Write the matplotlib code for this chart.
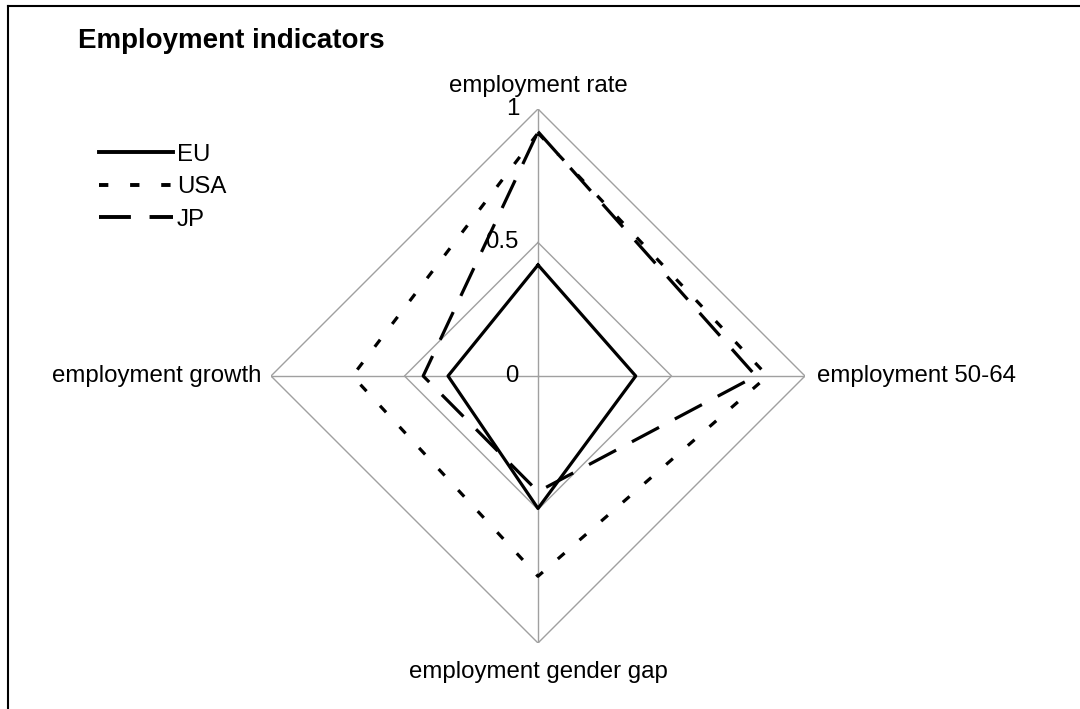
import numpy as np
import matplotlib
matplotlib.use("Agg")
from matplotlib import pyplot as plt
from matplotlib.lines import Line2D

plt.rcParams['font.family'] = ['Liberation Sans', 'DejaVu Sans']

# Données
indicateurs = ['employment rate', 'employment 50-64', 'employment gender gap', 'employment growth']
eu = [0.416, 0.366, 0.496, 0.337]
usa = [0.91, 0.86, 0.75, 0.695]
jp = [0.915, 0.816, 0.433, 0.43]
graduations = [0, 0.5, 1]

# Angles : haut, droite, bas, gauche
angles = np.array([0, 90, 180, 270]) * np.pi / 180

# Styles des séries
lw = 2.3
tirets_usa = (2.8, 6.2)
tirets_jp = (9.6, 5.6)
taille = 17.3


def vers_xy(valeurs):
    r = np.array(list(valeurs) + [valeurs[0]])
    a = np.append(angles, angles[0])
    return r * np.sin(a), r * np.cos(a)


fig = plt.figure(figsize=(10.8, 7.09), dpi=100)
ax = fig.add_axes([271 / 1080, 66 / 709, 534 / 1080, 534 / 709])
ax.set_xlim(-1, 1)
ax.set_ylim(-1, 1)
ax.set_aspect('equal')
ax.axis('off')

gris = '#a0a0a0'
# Grille en losange
for g in graduations[1:]:
    x, y = vers_xy([g] * 4)
    ax.plot(x, y, color=gris, lw=1, zorder=1)
# Rayons
for a in angles:
    ax.plot([0, np.sin(a)], [0, np.cos(a)], color=gris, lw=1, zorder=1)

# Graduations à gauche de l'axe vertical
for g in graduations:
    ax.annotate(str(g), (0, g), xytext=(-19, 0), textcoords='offset pixels',
                ha='right', va='center', fontsize=taille)

# Séries
x, y = vers_xy(eu)
ax.plot(x, y, color='black', lw=lw, zorder=3)
x, y = vers_xy(usa)
ax.plot(x, y, color='black', lw=lw, dashes=tirets_usa, zorder=3)
x, y = vers_xy(jp)
ax.plot(x, y, color='black', lw=lw, dashes=tirets_jp, zorder=3)

# Libellés des axes
ax.annotate(indicateurs[0], (0, 1), xytext=(0, 12), textcoords='offset pixels',
            ha='center', va='bottom', fontsize=taille, annotation_clip=False)
ax.annotate(indicateurs[1], (1, 0), xytext=(12, 0), textcoords='offset pixels',
            ha='left', va='center', fontsize=taille, annotation_clip=False)
ax.annotate(indicateurs[2], (0, -1), xytext=(0, -18), textcoords='offset pixels',
            ha='center', va='top', fontsize=taille, annotation_clip=False)
ax.annotate(indicateurs[3], (-1, 0), xytext=(-10, 0), textcoords='offset pixels',
            ha='right', va='center', fontsize=taille, annotation_clip=False)

# Titre
fig.text(78 / 1080, 1 - 48 / 709, 'Employment indicators', fontsize=20, fontweight='bold',
         ha='left', va='baseline')

# Légende
poignees = [Line2D([], [], color='black', lw=2.8),
            Line2D([], [], color='black', lw=2.8, dashes=(2.4, 5.6)),
            Line2D([], [], color='black', lw=2.8, dashes=(8.2, 4.8))]
fig.legend(poignees, ['EU', 'USA', 'JP'], loc='upper left', bbox_to_anchor=(77 / 1080, 1 - 122 / 709),
           frameon=False, fontsize=taille, handlelength=3.1, handletextpad=0.15, labelspacing=0.44)

# Cadre (haut et gauche)
fig.add_artist(Line2D([8 / 1080, 8 / 1080], [0, 1 - 6 / 709], color='black', lw=1.5,
                      transform=fig.transFigure))
fig.add_artist(Line2D([8 / 1080, 1], [1 - 6 / 709, 1 - 6 / 709], color='black', lw=1.5,
                      transform=fig.transFigure))

fig.savefig('out.png', dpi=100)
